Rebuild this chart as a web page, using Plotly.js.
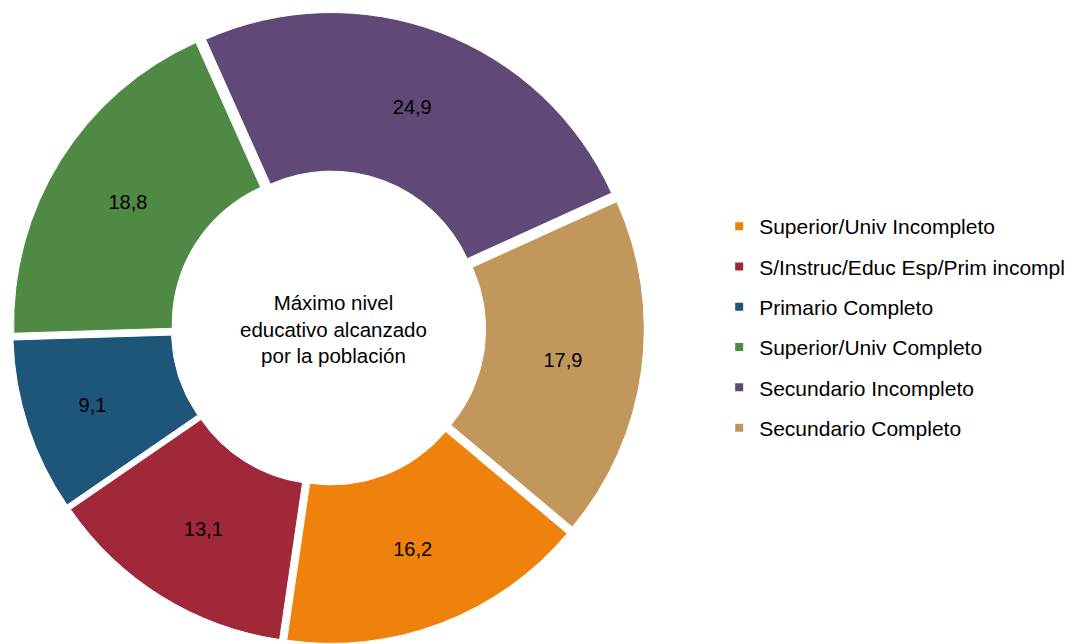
<!DOCTYPE html>
<html>
<head>
<meta charset="utf-8">
<script src="https://cdn.plot.ly/plotly-3.0.1.min.js"></script>
<style>html,body{margin:0;padding:0;background:#fff;}#chart{width:1075px;height:644px;}</style>
</head>
<body>
<div id="chart"></div>
<script>
const labels = [
  "Superior/Univ Incompleto",
  "S/Instruc/Educ Esp/Prim incompl",
  "Primario Completo",
  "Superior/Univ Completo",
  "Secundario Incompleto",
  "Secundario Completo"
];
const values = [16.2, 13.1, 9.1, 18.8, 24.9, 17.9];
const colors = ["#EF820D", "#A12838", "#1E5679", "#4F8A44", "#614977", "#C2975B"];
const centerTitle = "Máximo nivel<br>educativo alcanzado<br>por la población";

const valueText = values.map(v => v.toFixed(1).replace(".", ","));
const FONT = "Liberation Sans, Arial, Helvetica, sans-serif";

const pie = {
  type: "pie",
  labels: labels,
  values: values,
  text: valueText,
  textinfo: "text",
  textposition: "inside",
  insidetextorientation: "horizontal",
  textfont: {family: FONT, size: 20, color: "#000"},
  sort: false,
  direction: "clockwise",
  rotation: 130,
  hole: 0.485,
  pull: 0.026,
  marker: {colors: colors, line: {color: "#fff", width: 1}},
  domain: {x: [0.0105, 0.6005], y: [0, 1]},
  showlegend: false,
  hoverinfo: "none"
};

const legendTraces = labels.map((lab, i) => ({
  type: "scatter",
  mode: "markers",
  x: [null],
  y: [null],
  name: lab,
  legendgroup: "g" + i,
  marker: {symbol: "square", size: 8, color: colors[i]},
  hoverinfo: "none"
}));

const layout = {
  width: 1075,
  height: 644,
  margin: {l: 0, r: 0, t: 12, b: 0},
  paper_bgcolor: "#fff",
  plot_bgcolor: "#fff",
  xaxis: {visible: false},
  yaxis: {visible: false},
  showlegend: true,
  legend: {
    x: 0.669, y: 0.693, xanchor: "left", yanchor: "top",
    font: {family: FONT, size: 21, color: "#000"},
    tracegroupgap: 10,
    bgcolor: "rgba(0,0,0,0)"
  },
  annotations: [{
    text: centerTitle,
    xref: "paper", yref: "paper",
    x: 0.31, y: 0.498,
    xanchor: "center", yanchor: "middle",
    showarrow: false,
    font: {family: FONT, size: 20.5, color: "#000"}
  }]
};

Plotly.newPlot("chart", [pie].concat(legendTraces), layout, {displayModeBar: false, staticPlot: true});
</script>
</body>
</html>
